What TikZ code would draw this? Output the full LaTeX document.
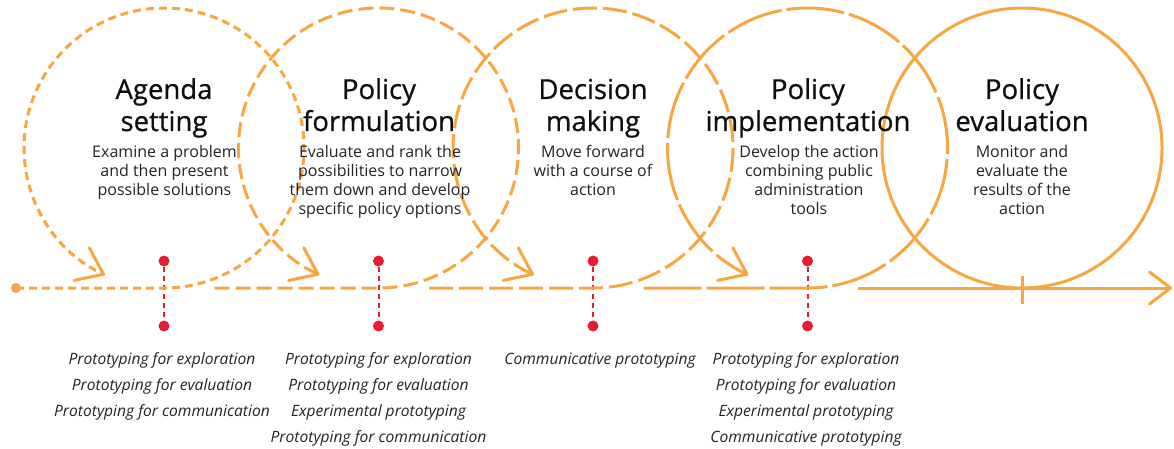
\documentclass[tikz,border=0pt]{standalone}
\usepackage{fontspec}
\setmainfont{Open Sans}
\newfontfamily\ttlfont{Open Sans}[FakeBold=0.7]
\usetikzlibrary{arrows.meta}
\definecolor{orng}{RGB}{247,167,66}
\definecolor{rd}{RGB}{230,28,50}
\definecolor{ttl}{RGB}{15,15,15}
\definecolor{dsc}{RGB}{35,35,35}
\newcommand\txtblk[6]{\foreach \t [count=\i] in {#6} {\node[#1] (#2-\i) at (#3,{#4-(\i-1)*#5}) {\t};}}
\begin{document}
\begin{tikzpicture}[x=1pt,y=1pt,
  loopline/.style={draw=orng, line width=3pt},
  dashA/.style={dash pattern=on 8pt off 5pt},
  dashB/.style={dash pattern=on 15pt off 6pt},
  dashC/.style={dash pattern=on 24pt off 6pt},
  dashD/.style={dash pattern=on 58pt off 5pt},
  barb/.style={-{Straight Barb[length=24pt,width=36pt,round]}},
  endbarb/.style={-{Straight Barb[length=21pt,width=32pt,round]}},
  titletxt/.style={font=\ttlfont\fontsize{27.5}{30}\selectfont, text=ttl, inner sep=0pt, anchor=base},
  desctxt/.style={font=\fontsize{16}{18}\selectfont, text=dsc, inner sep=0pt, anchor=base},
  prototxt/.style={font=\itshape\fontsize{15.6}{17}\selectfont, text=dsc, inner sep=0pt, anchor=base},
  reddot/.style={circle, fill=rd, inner sep=0pt, minimum size=11pt},
  redline/.style={draw=rd, line width=2pt, dash pattern=on 5pt off 4pt},
  startdot/.style={circle, fill=orng, inner sep=0pt, minimum size=10pt},
]
\useasboundingbox (0,0) rectangle (1174,448);

% red markers
\foreach \x [count=\k] in {164,378.5,593,807.5} {
  \node[reddot] (rt\k) at (\x,187) {};
  \node[reddot] (rb\k) at (\x,122) {};
  \draw[redline] (rt\k) -- (rb\k);
}

% loops
\node[startdot] (start) at (16,160) {};
\coordinate (b1) at (164,160);
\coordinate (s2) at (214.5,160);
\coordinate (b2) at (378.5,160);
\coordinate (s3) at (429,160);
\coordinate (b3) at (593,160);
\coordinate (s4) at (643.5,160);
\coordinate (b4) at (807.5,160);
\coordinate (s5) at (858,160);
\coordinate (b5) at (1022,160);
\coordinate (c5) at (1022,300);
\coordinate (e5) at (1172,160);

\draw[loopline, dashA, barb] (start.center) -- (b1) arc[start angle=-90, end angle=245, radius=140];
\draw[loopline, dashB, barb] (s2) -- (b2) arc[start angle=-90, end angle=245, radius=140];
\draw[loopline, dashC, barb] (s3) -- (b3) arc[start angle=-90, end angle=245, radius=140];
\draw[loopline, dashD, barb] (s4) -- (b4) arc[start angle=-90, end angle=245, radius=140];
\draw[loopline] (c5) circle[radius=140];
\draw[loopline, endbarb] (s5) -- (e5);
\draw[loopline] ([yshift=-16pt]b5) -- ([yshift=12pt]b5);

% titles
\txtblk{titletxt}{ti1}{164}{349}{32}{Agenda,setting}
\txtblk{titletxt}{ti2}{379}{349}{32}{Policy,formulation}
\txtblk{titletxt}{ti3}{593}{349}{32}{Decision,making}
\txtblk{titletxt}{ti4}{808}{349}{32}{Policy,implementation}
\txtblk{titletxt}{ti5}{1022}{349}{32}{Policy,evaluation}

% descriptions
\txtblk{desctxt}{de1}{164.5}{290.5}{19}{Examine a problem,and then present,possible solutions}
\txtblk{desctxt}{de2}{380}{290.5}{19}{Evaluate and rank the,possibilities to narrow,them down and develop,specific policy options}
\txtblk{desctxt}{de3}{593}{290.5}{19}{Move forward,with a course of,action}
\txtblk{desctxt}{de4}{809}{290.5}{19}{Develop the action,combining public,administration,tools}
\txtblk{desctxt}{de5}{1022}{290.5}{19}{Monitor and,evaluate the,results of the,action}

% prototyping lists
\txtblk{prototxt}{pr1}{162}{84}{26}{Prototyping for exploration,Prototyping for evaluation,Prototyping for communication}
\txtblk{prototxt}{pr2}{378.5}{84}{26}{Prototyping for exploration,Prototyping for evaluation,Experimental prototyping,Prototyping for communication}
\txtblk{prototxt}{pr3}{600}{84}{26}{Communicative prototyping}
\txtblk{prototxt}{pr4}{806}{84}{26}{Prototyping for exploration,Prototyping for evaluation,Experimental prototyping,Communicative prototyping}
\end{tikzpicture}
\end{document}
